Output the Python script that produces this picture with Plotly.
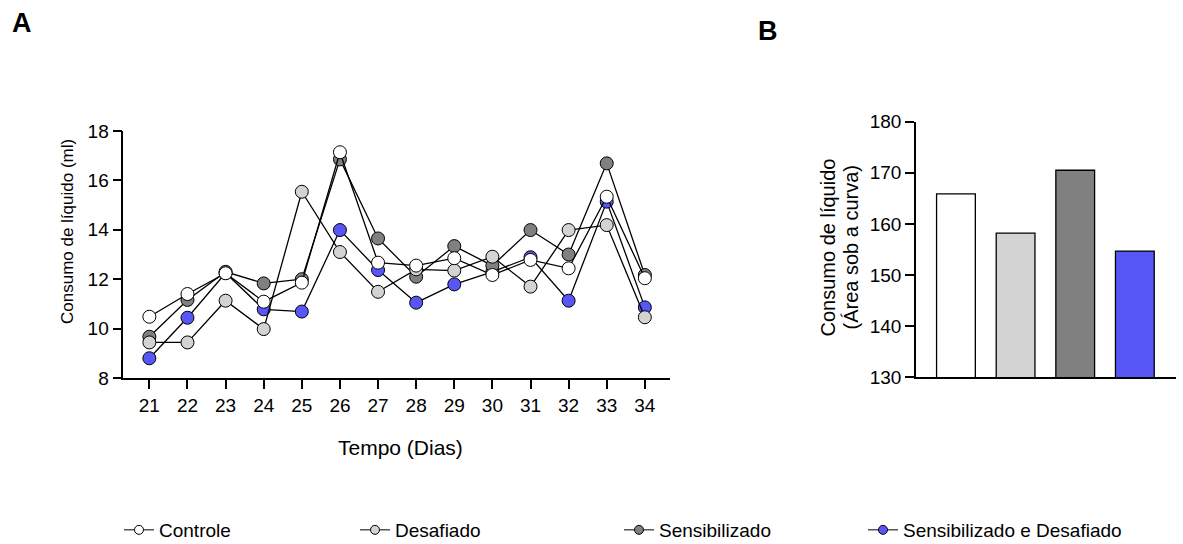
import plotly.graph_objects as go

days = list(range(21, 35))
controle = [10.48, 11.40, 12.24, 11.09, 11.86, 17.14, 12.67, 12.55, 12.85, 12.17, 12.78, 12.44, 15.34, 12.04]
desafiado = [9.44, 9.44, 11.13, 9.98, 15.54, 13.10, 11.49, 12.40, 12.35, 12.91, 11.70, 13.99, 14.19, 10.46]
sensibilizado = [9.67, 11.16, 12.30, 11.83, 12.00, 16.85, 13.65, 12.10, 13.34, 12.55, 13.99, 13.00, 16.69, 12.17]
sens_desaf = [8.80, 10.44, 12.25, 10.78, 10.69, 13.99, 12.37, 11.05, 11.79, 12.30, 12.89, 11.13, 15.14, 10.86]

groups = ["Controle", "Desafiado", "Sensibilizado", "Sensibilizado e Desafiado"]
auc = [165.9, 158.2, 170.5, 154.7]
colors = ["#FFFFFF", "#D3D3D3", "#808080", "#5757F7"]
series = [controle, desafiado, sensibilizado, sens_desaf]

W, H = 1183, 544
FONT = "Liberation Sans, Arial, sans-serif"

def px_x(p):
    return p / W

def px_y(p):
    return (H - p) / H

fig = go.Figure()

# draw in reverse so Controle is on top
for i in [3, 2, 1, 0]:
    fig.add_trace(go.Scatter(
        x=days, y=series[i], mode="lines+markers", name=groups[i],
        line=dict(color="black", width=1.3),
        marker=dict(size=13, color=colors[i], line=dict(color="black", width=1)),
        showlegend=False, xaxis="x", yaxis="y",
    ))

legend_names = ["legend", "legend2", "legend3", "legend4"]
legend_sym_x = [139, 375, 639, 883]

# legend entries (smaller symbols), one legend each for exact placement
for i in range(4):
    fig.add_trace(go.Scatter(
        x=[None], y=[None], mode="lines+markers", name=groups[i],
        line=dict(color="black", width=1),
        marker=dict(size=9, color=colors[i], line=dict(color="black", width=1)),
        showlegend=True, legend=legend_names[i], xaxis="x", yaxis="y",
    ))

fig.add_trace(go.Bar(
    x=list(range(4)), y=auc, width=0.65,
    marker=dict(color=colors, line=dict(color="black", width=1.3)),
    showlegend=False, xaxis="x2", yaxis="y2",
))

axis_common = dict(showgrid=False, zeroline=False, showline=True, linecolor="black",
                   linewidth=1.5, ticks="outside", ticklen=9, tickwidth=1.5, tickcolor="black",
                   tickfont=dict(family=FONT, size=19, color="black"))

legend_layouts = {}
for i, nm in enumerate(legend_names):
    legend_layouts[nm] = dict(
        orientation="h", x=px_x(legend_sym_x[i] - 20), xanchor="left",
        y=px_y(530), yanchor="middle",
        font=dict(family=FONT, size=19, color="black"),
        bgcolor="rgba(0,0,0,0)", itemclick=False, itemdoubleclick=False,
    )

fig.update_layout(
    width=W, height=H,
    margin=dict(l=0, r=0, t=0, b=0, autoexpand=False),
    paper_bgcolor="white", plot_bgcolor="white",
    font=dict(family=FONT, color="black"),
    xaxis=dict(domain=[px_x(123.3), px_x(670)], range=[20.316, 34.66],
               tickvals=days, anchor="y", **axis_common),
    yaxis=dict(domain=[px_y(378), px_y(131)], range=[8, 18],
               tickvals=[8, 10, 12, 14, 16, 18], anchor="x", **axis_common),
    xaxis2=dict(domain=[px_x(916), px_x(1176)], range=[-0.67, 3.69], anchor="y2",
                showgrid=False, zeroline=False, showline=True, linecolor="black",
                linewidth=1.5, ticks="", showticklabels=False),
    yaxis2=dict(domain=[px_y(377.3), px_y(121.7)], range=[130, 180],
                tickvals=[130, 140, 150, 160, 170, 180], anchor="x2", **axis_common),
    annotations=[
        dict(text="Consumo de líquido (ml)", x=px_x(67), y=px_y(232), xref="paper", yref="paper",
             xanchor="center", yanchor="middle",
             textangle=-90, showarrow=False, font=dict(size=17, family=FONT)),
        dict(text="Tempo (Dias)", x=px_x(400.8), y=px_y(447.7), xref="paper", yref="paper",
             xanchor="center", yanchor="middle",
             showarrow=False, font=dict(size=21, family=FONT)),
        dict(text="Consumo de líquido", x=px_x(827), y=px_y(247.5),
             xref="paper", yref="paper", textangle=-90, showarrow=False,
             xanchor="center", yanchor="middle", font=dict(size=20, family=FONT)),
        dict(text="(Área sob a curva)", x=px_x(850), y=px_y(247.5),
             xref="paper", yref="paper", textangle=-90, showarrow=False,
             xanchor="center", yanchor="middle", font=dict(size=20, family=FONT)),
        dict(text="<b>A</b>", x=px_x(22), y=px_y(23), xref="paper", yref="paper",
             xanchor="center", yanchor="middle",
             showarrow=False, font=dict(size=27, family=FONT)),
        dict(text="<b>B</b>", x=px_x(768), y=px_y(31.5), xref="paper", yref="paper",
             xanchor="center", yanchor="middle",
             showarrow=False, font=dict(size=27, family=FONT)),
    ],
    **legend_layouts,
)

fig.write_html("out.html")
